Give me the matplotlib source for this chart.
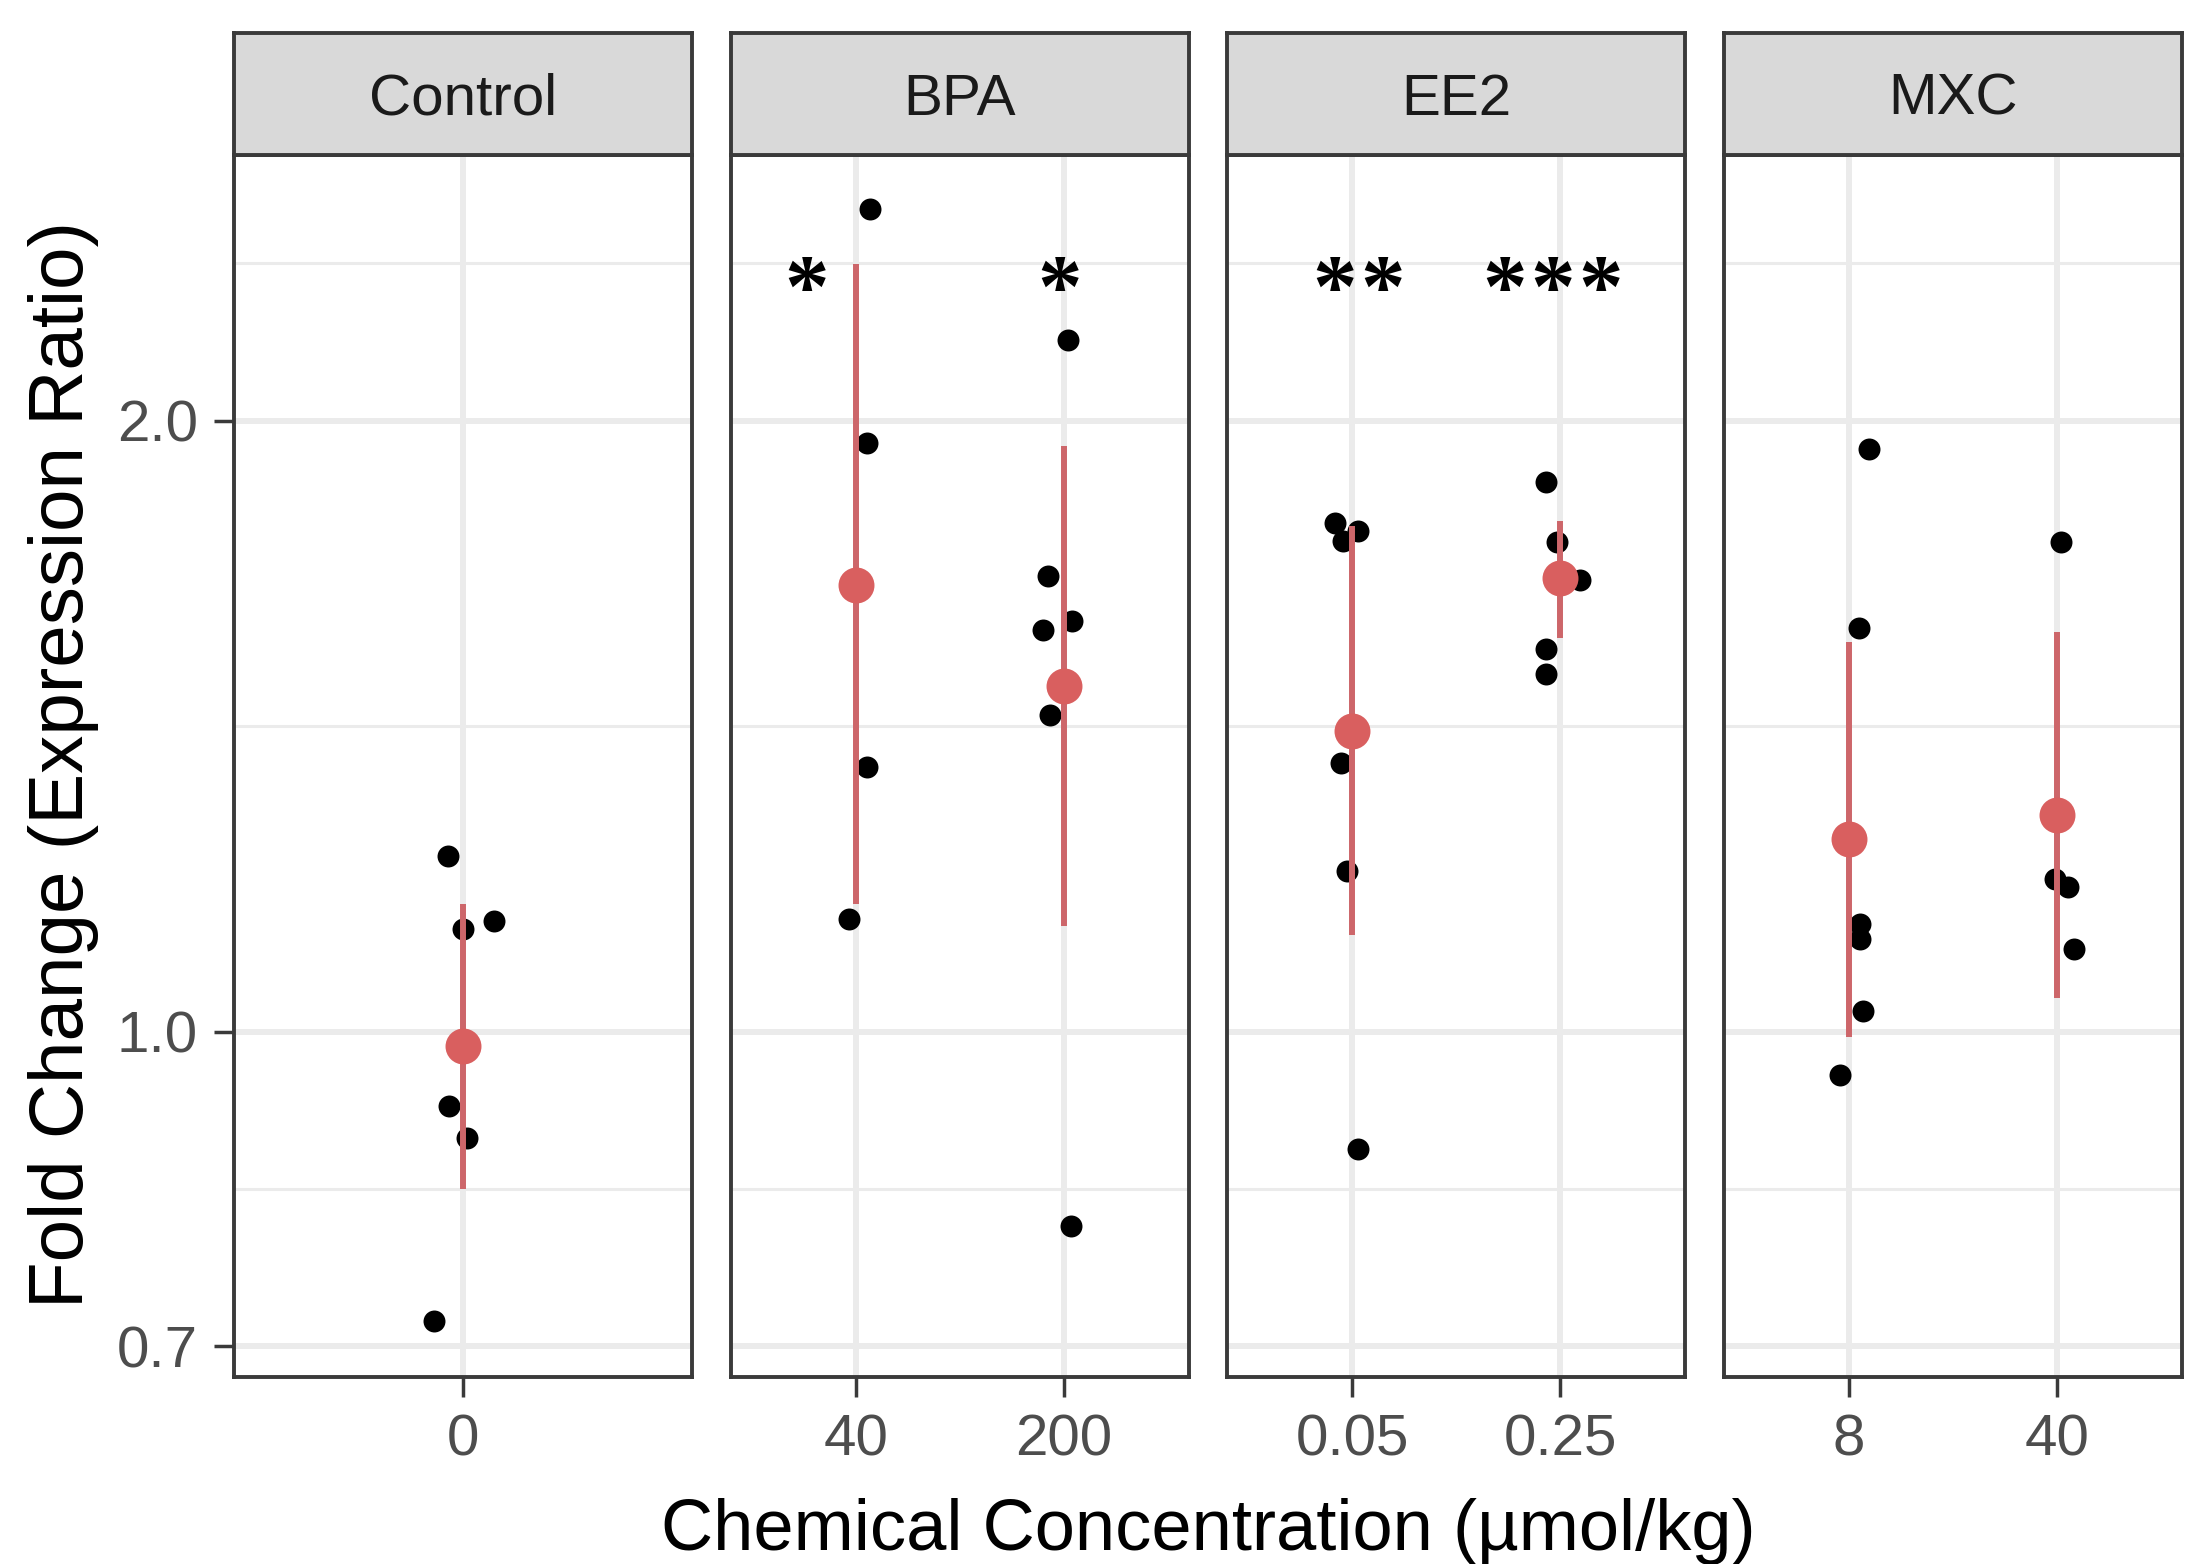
import numpy as np
import matplotlib.pyplot as plt
import matplotlib.ticker as mticker

plt.rcParams['font.family'] = ['Liberation Sans', 'DejaVu Sans']

# ----- data -----
panels = ['Control', 'BPA', 'EE2', 'MXC']
panel_doses = [['0'], ['40', '200'], ['0.05', '0.25'], ['8', '40']]

# one entry per dose group, in panel order
group_values = [
    [1.220, 1.123, 1.134, 0.919, 0.886, 0.720],          # Control 0
    [2.543, 1.950, 1.350, 1.136],                        # BPA 40
    [2.193, 1.677, 1.578, 1.593, 1.433, 0.802],          # BPA 200
    [1.781, 1.744, 1.764, 1.357, 1.200, 0.875],          # EE2 0.05
    [1.865, 1.742, 1.669, 1.544, 1.500],                 # EE2 0.25
    [1.937, 1.581, 1.130, 1.111, 1.024, 0.952],          # MXC 8
    [1.742, 1.189, 1.178, 1.098],                        # MXC 40
]
group_jitter = [
    [-0.04, 0.0, 0.081, -0.037, 0.011, -0.077],
    [0.068, 0.054, 0.054, -0.034],
    [0.02, -0.074, -0.101, 0.041, -0.068, 0.034],
    [-0.081, -0.047, 0.027, -0.054, -0.027, 0.027],
    [-0.068, -0.014, 0.095, -0.068, -0.068],
    [0.095, 0.047, 0.054, 0.054, 0.068, -0.041],
    [0.02, -0.007, 0.054, 0.081],
]
group_mean = [0.984, 1.660, 1.481, 1.407, 1.674, 1.245, 1.279]
group_lo = [0.837, 1.156, 1.128, 1.116, 1.563, 0.994, 1.039]
group_hi = [1.156, 2.390, 1.944, 1.775, 1.784, 1.556, 1.573]
group_stars = [0, 1, 1, 2, 3, 0, 0]     # significance stars
star_dx = [0, -0.235, -0.018, 0.03, -0.038, 0, 0]
star_y = 2.31
star_gap = 0.231

y_breaks = [0.7, 1.0, 2.0]
y_labels = ['0.7', '1.0', '2.0']

# ggplot style minor breaks on log scale
lb = np.log10(y_breaks)
lb_ext = np.append(lb, lb[-1] + (lb[1] - lb[0]))
y_minor = 10 ** ((lb_ext[:-1] + lb_ext[1:]) / 2)

# ----- figure -----
fig = plt.figure(figsize=(22.01, 15.64), dpi=100)

left0 = 0.1065
pw = 0.2079
gap = 0.0177
bottom = 0.1196
ph = 0.7816
strip_h = 0.0778

red = '#d95f5f'
bar_red = '#cd666a'
grid_c = '#ebebeb'
dark = '#3a3a3a'

g = 0
for i, name in enumerate(panels):
    doses = panel_doses[i]
    left = left0 + i * (pw + gap)
    ax = fig.add_axes([left, bottom, pw, ph])
    ax.set_yscale('log')
    ax.set_ylim(0.676, 2.705)
    ax.set_xlim(0.4, len(doses) + 0.6)

    for yv in y_minor:
        ax.axhline(yv, color=grid_c, lw=2.2, zorder=0)
    for yv in y_breaks:
        ax.axhline(yv, color=grid_c, lw=4.3, zorder=0)

    xpos = np.arange(1, len(doses) + 1)
    for xv in xpos:
        ax.axvline(xv, color=grid_c, lw=4.3, zorder=0)

    for j in range(len(doses)):
        x = xpos[j]
        vals = np.array(group_values[g])
        jit = np.array(group_jitter[g])
        ax.scatter(x + jit, vals, s=250, color='black', zorder=3, linewidths=0)
        ax.vlines(x, group_lo[g], group_hi[g], color=bar_red, lw=4.3, zorder=4)
        ax.scatter([x], [group_mean[g]], s=670, color=red, zorder=5, linewidths=0)
        n = group_stars[g]
        for k in range(n):
            sx = x + star_dx[g] + (k - (n - 1) / 2) * star_gap
            ax.text(sx, star_y, '*', ha='center', va='center', fontsize=64,
                    fontweight='bold', family='Liberation Serif', zorder=6)
        g += 1

    ax.set_xticks(xpos)
    ax.set_xticklabels(doses)
    ax.set_yticks(y_breaks)
    ax.set_yticklabels(y_labels)
    ax.yaxis.set_minor_locator(mticker.NullLocator())
    ax.tick_params(length=14.4, width=2.5, color=dark, labelsize=42,
                   labelcolor='#4d4d4d', pad=12)
    if i > 0:
        ax.tick_params(axis='y', left=False, labelleft=False)
    for sp in ax.spines.values():
        sp.set_linewidth(2.8)
        sp.set_color(dark)

    # facet strip
    sax = fig.add_axes([left, bottom + ph, pw, strip_h])
    sax.set_facecolor('#d9d9d9')
    sax.set_xticks([])
    sax.set_yticks([])
    for sp in sax.spines.values():
        sp.set_linewidth(2.8)
        sp.set_color(dark)
    sax.text(0.5, 0.45, name, ha='center', va='center', fontsize=42,
             color='#1a1a1a', transform=sax.transAxes)

fig.text(0.0287, 0.511, 'Fold Change (Expression Ratio)', rotation=90,
         ha='center', va='center', fontsize=55)
fig.text(0.549, 0.009, 'Chemical Concentration (µmol/kg)', ha='center',
         va='baseline', fontsize=52)

fig.savefig('out.png', dpi=100)
